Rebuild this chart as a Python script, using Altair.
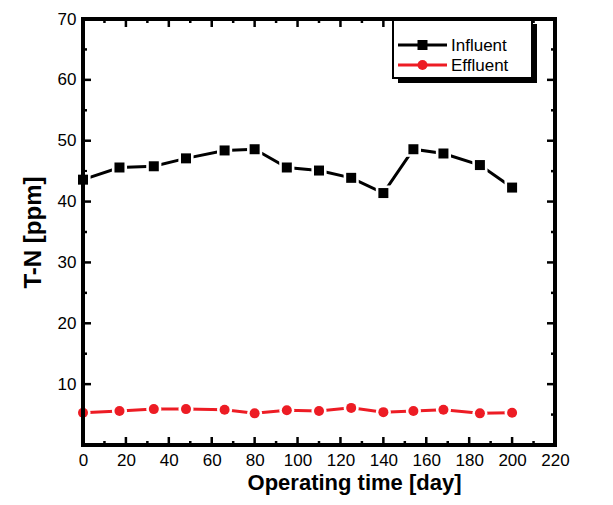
import altair as alt
import pandas as pd

# ---- data ----
days = [0, 17, 33, 48, 66, 80, 95, 110, 125, 140, 154, 168, 185, 200]
influent = [43.6, 45.6, 45.8, 47.1, 48.4, 48.6, 45.6, 45.1, 43.9, 41.4, 48.6, 47.9, 46.0, 42.3]
effluent = [5.3, 5.6, 5.9, 5.9, 5.8, 5.2, 5.7, 5.6, 6.1, 5.4, 5.6, 5.8, 5.2, 5.3]
series_names = ["Influent", "Effluent"]
series_colors = ["#000000", "#ED1C24"]
series_shapes = ["square", "circle"]

x_major = list(range(0, 221, 20))
x_minor = list(range(10, 211, 20))
y_major = list(range(0, 71, 10))
y_minor = list(range(5, 66, 10))
y_labels = list(range(10, 71, 10))

W, H = 472, 426
FONT = "Liberation Sans"

df = pd.DataFrame(
    {
        "day": days * 2,
        "value": influent + effluent,
        "series": ["Influent"] * len(days) + ["Effluent"] * len(days),
    }
)

xscale = alt.Scale(domain=[0, 220], nice=False, zero=False)
yscale = alt.Scale(domain=[0, 70], nice=False, zero=False)
color = alt.Color("series:N", scale=alt.Scale(domain=series_names, range=series_colors), legend=None)
shape = alt.Shape("series:N", scale=alt.Scale(domain=series_names, range=series_shapes), legend=None)

xaxis = alt.Axis(
    values=x_major, title="Operating time [day]", tickSize=0, domain=False, grid=False,
    labelFont=FONT, labelFontSize=17, labelColor="black", labelPadding=7,
    labelFlush=False, labelOverlap=False,
    titleFont=FONT, titleFontSize=22, titleFontWeight="bold", titleColor="black",
    titlePadding=4, titleX=271, titleAlign="center",
)
yaxis = alt.Axis(
    values=y_labels, title="T-N [ppm]", tickSize=0, domain=False, grid=False,
    labelFont=FONT, labelFontSize=17, labelColor="black", labelPadding=7,
    labelFlush=False, labelOverlap=False,
    titleFont=FONT, titleFontSize=24, titleFontWeight="bold", titleColor="black",
    titlePadding=12,
)

base = alt.Chart(df)
line = base.mark_line(strokeWidth=3).encode(
    x=alt.X("day:Q", scale=xscale, axis=xaxis),
    y=alt.Y("value:Q", scale=yscale, axis=yaxis),
    color=color,
    detail="series:N",
)
halo = base.mark_point(filled=True, opacity=1, color="white").encode(
    x=alt.X("day:Q", scale=xscale),
    y=alt.Y("value:Q", scale=yscale),
    shape=shape,
    size=alt.value(230),
)
pts = base.mark_point(filled=True, opacity=1).encode(
    x=alt.X("day:Q", scale=xscale),
    y=alt.Y("value:Q", scale=yscale),
    color=color,
    shape=shape,
    size=alt.value(100),
)

# inward ticks on all four sides
def xticks(vals, length):
    d = alt.Chart(pd.DataFrame({"day": vals}))
    bottom = d.mark_rule(color="black", strokeWidth=2.5).encode(
        x=alt.X("day:Q", scale=xscale), y=alt.value(H), y2=alt.value(H - length))
    top = d.mark_rule(color="black", strokeWidth=2.5).encode(
        x=alt.X("day:Q", scale=xscale), y=alt.value(0), y2=alt.value(length))
    return [bottom, top]

def yticks(vals, length):
    d = alt.Chart(pd.DataFrame({"value": vals}))
    left = d.mark_rule(color="black", strokeWidth=2.5).encode(
        y=alt.Y("value:Q", scale=yscale), x=alt.value(0), x2=alt.value(length))
    right = d.mark_rule(color="black", strokeWidth=2.5).encode(
        y=alt.Y("value:Q", scale=yscale), x=alt.value(W), x2=alt.value(W - length))
    return [left, right]

ticks = xticks(x_major, 8) + xticks(x_minor, 4) + yticks(y_major, 8) + yticks(y_minor, 4)

frame = alt.Chart(pd.DataFrame({"f": [0]})).mark_rect(
    fillOpacity=0, stroke="black", strokeWidth=4
).encode(x=alt.value(0), x2=alt.value(W), y=alt.value(0), y2=alt.value(H))

# legend box with drop shadow (Origin style)
leg = alt.Chart(pd.DataFrame({"series": series_names}))
shadow = leg.mark_rect(color="black").encode(
    x=alt.value(315), x2=alt.value(454), y=alt.value(5), y2=alt.value(64))
box = leg.mark_rect(fill="white", stroke="black", strokeWidth=2).encode(
    x=alt.value(310), x2=alt.value(449), y=alt.value(1), y2=alt.value(59))

legend_layers = []
for i, (name, col, shp) in enumerate(zip(series_names, series_colors, series_shapes)):
    yy = 26 + 20 * i
    d = alt.Chart(pd.DataFrame({"series": [name]}))
    legend_layers.append(
        d.mark_rule(color=col, strokeWidth=3).encode(x=alt.value(315), x2=alt.value(364), y=alt.value(yy)))
    legend_layers.append(
        d.mark_point(filled=True, opacity=1, color=col, shape=shp, size=100).encode(
            x=alt.value(339.5), y=alt.value(yy)))
    legend_layers.append(
        d.mark_text(align="left", baseline="middle", font=FONT, fontSize=17, color="black").encode(
            x=alt.value(368), y=alt.value(yy + 1), text="series:N"))

chart = alt.layer(line, *ticks, halo, pts, frame, shadow, box, *legend_layers).properties(
    width=W, height=H,
    autosize=alt.AutoSizeParams(type="none"),
    padding={"left": 75, "top": 11, "right": 50, "bottom": 58},
).configure_view(stroke=None).configure(background="white")

chart.save("out.html", embed_options={"renderer": "svg", "actions": False})
